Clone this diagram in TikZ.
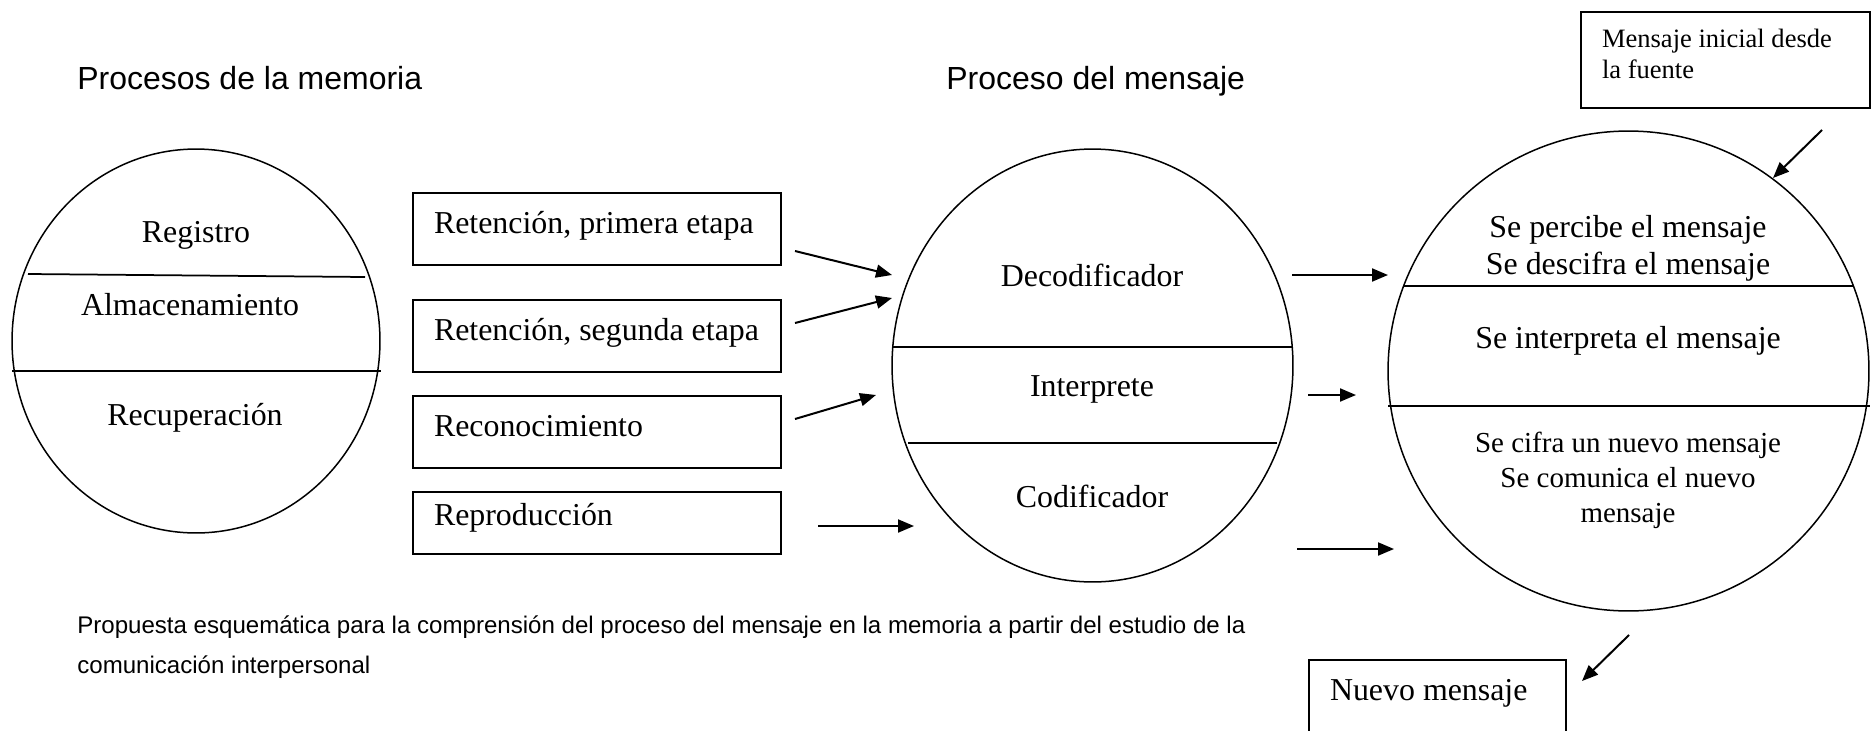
\documentclass[tikz,border=0pt]{standalone}
\usepackage{fontspec}
\setmainfont{Liberation Serif}
\setsansfont{Liberation Sans}
\usetikzlibrary{arrows.meta,shapes.geometric}

\begin{document}
\begin{tikzpicture}[
  x=0.02cm, y=-0.02cm,
  ell/.style={draw, ellipse, inner sep=0pt, line width=0.03cm},
  cut/.style={line width=0.035cm},
  box/.style={draw, line width=0.04cm, anchor=north west, text width=6.52cm, inner xsep=0.42cm, inner ysep=0pt, align=flush left, minimum height=1.44cm, text height=0.5cm, text depth=0.3cm, font=\fontsize{18.15pt}{21pt}\selectfont},
  src/.style={draw, line width=0.04cm, anchor=north west, inner xsep=0.42cm, inner ysep=0pt, align=flush left, font=\fontsize{15.1pt}{17.6pt}\selectfont},
  lbl/.style={inner sep=0pt, anchor=base, font=\fontsize{18.15pt}{21pt}\selectfont},
  ttl/.style={inner sep=0pt, anchor=base west, font=\sffamily\fontsize{18.2pt}{21pt}\selectfont},
  arr/.style={-{Triangle[length=0.32cm,width=0.26cm]}, line width=0.04cm}
]
\useasboundingbox (0,0) rectangle (1871,730);

\node[ttl] (tmem) at (77,89) {Procesos de la memoria};
\node[ttl] (tmsg) at (946,89) {Proceso del mensaje};

\node[ell, minimum width=7.36cm, minimum height=7.68cm] (mem) at (196,341) {};
\draw[cut] (28,274) -- (365,277);
\draw[cut] (12,371) -- (381,371);
\node[lbl] (reg) at (196,242) {Registro};
\node[lbl] (alm) at (190,315) {Almacenamiento};
\node[lbl] (recu) at (195,425) {Recuperación};

\node[box] (ret1) at (412,192) {Retención, primera etapa};
\node[box] (ret2) at (412,299) {\mbox{Retención, segunda etapa}};
\node[box] (recon) at (412,395) {Reconocimiento};
\node[box, minimum height=1.24cm, text depth=0.42cm] (repro) at (412,491) {Reproducción};

\node[ell, minimum width=8.02cm, minimum height=8.66cm] (msg) at (1092.5,365.5) {};
\draw[cut] (892,347) -- (1293,347);
\draw[cut] (908,443) -- (1277,443);
\node[lbl] (deco) at (1092,286) {Decodificador};
\node[lbl] (inter) at (1092,396) {Interprete};
\node[lbl] (codi) at (1092,507) {Codificador};

\node[ell, minimum width=9.62cm, minimum height=9.6cm] (recep) at (1628.5,371) {};
\draw[cut] (1404,286) -- (1854,286);
\draw[cut] (1388,406) -- (1870,406);
\node[lbl, anchor=north, align=center] (perc) at (1628,215) {Se percibe el mensaje\\Se descifra el mensaje};
\node[lbl] (interp) at (1628,348) {Se interpreta el mensaje};
\node[lbl, anchor=north, align=center, font=\fontsize{16.5pt}{19.9pt}\selectfont] (cifra) at (1628,432)
  {Se cifra un nuevo mensaje\\Se comunica el nuevo\\mensaje};

\node[src, text width=4.94cm, minimum height=1.92cm] (fuente) at (1580,11)
  {Mensaje inicial desde\\la fuente\rule[-0.26cm]{0pt}{0pt}};
\node[box, text width=4.3cm, minimum height=1.62cm, text height=0.4cm, text depth=0.4cm] (nuevo) at (1308,659) {Nuevo mensaje};

\node[inner sep=0pt, anchor=north west, align=left, font=\sffamily\fontsize{13.7pt}{22.76pt}\selectfont] (cap) at (77,615)
  {Propuesta esquemática para la comprensión del proceso del mensaje en la memoria a partir del estudio de la\\
   comunicación interpersonal};

\foreach \name/\px/\py in {p1/795/251, q1/892/275, p2/795/323, q2/892/298,
  p3/795/419, q3/876/395, p4/818/526, q4/914/526,
  p5/1292/275, q5/1388/275, p6/1308/395, q6/1356/395,
  p7/1297/549, q7/1394/549, p8/1822/130, q8/1773/178, p9/1629/635, q9/1582/681}
  \coordinate (\name) at (\px,\py);
\foreach \i in {1,...,9}
  \draw[arr] (p\i) -- (q\i);

\end{tikzpicture}
\end{document}
